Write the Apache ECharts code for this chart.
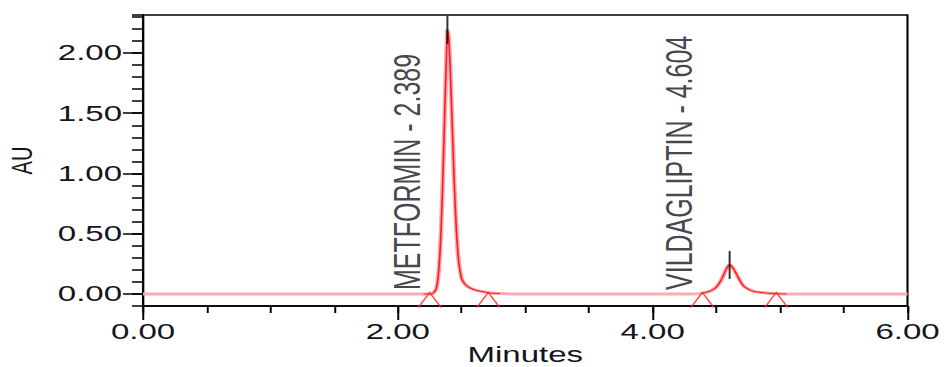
<!DOCTYPE html>
<html>
<head>
<meta charset="utf-8">
<script src="https://cdn.jsdelivr.net/npm/echarts@6.0.0/dist/echarts.min.js"></script>
<style>
  html, body { margin: 0; padding: 0; background: #fff; overflow: hidden; }
  /* the reference is stretched sideways, so draw narrow and stretch */
  #chart { width: 629.333px; height: 367px; transform: scaleX(1.5); transform-origin: 0 0; }
</style>
</head>
<body>
<div id="chart"></div>
<script>
// chromatogram trace (minutes, AU)
const timeMin = [
  0, 0.5, 1.0, 1.5, 2.0, 2.2, 2.26, 2.28, 2.30, 2.31, 2.32, 2.33, 2.34, 2.35, 2.36, 2.37, 2.38,
  2.389, 2.40, 2.41, 2.42, 2.43, 2.44, 2.45, 2.46, 2.47, 2.48, 2.50, 2.52, 2.55, 2.60, 2.66,
  2.72, 2.80, 2.90, 3.2, 3.6, 4.0, 4.30, 4.38, 4.44, 4.48, 4.51, 4.54, 4.57, 4.59, 4.604,
  4.62, 4.65, 4.68, 4.71, 4.75, 4.80, 4.87, 4.95, 5.05, 5.5, 6.0
];
const absorb = [
  0, 0, 0, 0, 0, 0, 0, 0.01, 0.04, 0.09, 0.18, 0.33, 0.55, 0.85, 1.20, 1.58, 1.92,
  2.19, 2.12, 1.90, 1.62, 1.30, 1.00, 0.74, 0.52, 0.36, 0.25, 0.13, 0.09, 0.06, 0.035, 0.02,
  0.008, 0.004, 0, 0, 0, 0, 0, 0.005, 0.02, 0.04, 0.07, 0.12, 0.19, 0.23, 0.24,
  0.23, 0.18, 0.12, 0.07, 0.04, 0.02, 0.01, 0.004, 0, 0, 0
];

// integrated peaks
const peakNames = ['METFORMIN', 'VILDAGLIPTIN'];
const peakRT = [2.389, 4.604];
const peakApex = [2.19, 0.24];
const peakStart = [2.25, 4.39];
const peakEnd = [2.71, 4.97];

// axis ticks
const yLabelValues = [0, 0.5, 1.0, 1.5, 2.0];

const SX = 1.5; // horizontal stretch of the page
const FONT = '"Liberation Sans", Arial, sans-serif';
const TEXT = '#14141c';

const trace = timeMin.map((t, i) => [t, absorb[i]]);
const redTrace = timeMin.map((t, i) => {
  const inPeak = peakStart.some((s, k) => t >= s - 0.05 && t <= peakEnd[k] + 0.15);
  return [t, inPeak ? absorb[i] : null];
});
const labelOffsets = [[4, -27], [4, -34]];

const chart = echarts.init(document.getElementById('chart'), null, { renderer: 'svg' });

chart.setOption({
  animation: false,
  grid: {
    left: 143 / SX,
    right: 36 / SX,
    top: 15,
    bottom: 61,
    outerBoundsMode: 'none',
    show: true,
    borderColor: '#000',
    borderWidth: 1.4
  },
  xAxis: [
    {
      type: 'value',
      min: 0,
      max: 6,
      interval: 0.5,
      name: 'Minutes',
      nameLocation: 'middle',
      nameGap: 38,
      nameTextStyle: { fontFamily: FONT, fontSize: 22, color: TEXT },
      axisLine: { onZero: false, lineStyle: { color: '#000', width: 1.5 } },
      axisTick: { length: 7, lineStyle: { color: '#000', width: 1.3 } },
      axisLabel: { show: false },
      splitLine: { show: false }
    },
    {
      type: 'value',
      min: 0,
      max: 6,
      interval: 2,
      position: 'bottom',
      axisLine: { show: false, onZero: false },
      axisTick: { length: 14, lineStyle: { color: '#000', width: 1.3 } },
      axisLabel: {
        margin: 15,
        fontFamily: FONT,
        fontSize: 22,
        color: TEXT,
        formatter: (v) => v.toFixed(2)
      },
      splitLine: { show: false }
    }
  ],
  yAxis: [
    {
      type: 'value',
      min: -0.1,
      max: 2.315,
      interval: 0.1,
      name: 'AU',
      nameLocation: 'middle',
      nameGap: 71,
      nameTextStyle: { fontFamily: FONT, fontSize: 20, color: TEXT },
      axisLine: { show: true, onZero: false, lineStyle: { color: '#000', width: 1.4 } },
      axisTick: { length: 11 / SX, lineStyle: { color: '#000', width: 1.5 } },
      axisLabel: { show: false },
      splitLine: { show: false }
    },
    {
      type: 'value',
      min: -0.1,
      max: 2.315,
      position: 'left',
      axisLine: { show: false, onZero: false },
      axisTick: { customValues: yLabelValues, length: 20 / SX, lineStyle: { color: '#000', width: 1.5 } },
      axisLabel: {
        customValues: yLabelValues,
        margin: 21 / SX,
        fontFamily: FONT,
        fontSize: 22,
        color: TEXT,
        formatter: (v) => v.toFixed(2)
      },
      splitLine: { show: false }
    }
  ],
  series: [
    {
      name: 'baseline',
      type: 'line',
      data: trace,
      showSymbol: false,
      smooth: 0.2,
      silent: true,
      z: 1,
      lineStyle: { color: '#ffa9b0', width: 3 }
    },
    {
      name: 'trace',
      type: 'line',
      data: redTrace,
      showSymbol: false,
      smooth: 0.2,
      connectNulls: false,
      silent: true,
      z: 2,
      lineStyle: { color: '#ff1f1f', width: 1.1 }
    },
    {
      name: 'peak marks',
      type: 'scatter',
      data: peakStart.concat(peakEnd).map((t) => [t, -0.05]),
      symbol: 'path://M0,15 L11.5,0 L23,15',
      symbolSize: [23 / SX, 15],
      silent: true,
      z: 3,
      itemStyle: { color: 'none', borderColor: '#ff2a2a', borderWidth: 1.2 }
    },
    {
      name: 'apex',
      type: 'scatter',
      data: peakRT.map((t, i) => [t, peakApex[i]]),
      symbol: 'rect',
      symbolSize: [2 / SX, 28],
      silent: true,
      z: 4,
      itemStyle: { color: '#000' }
    },
    {
      name: 'peak names',
      type: 'scatter',
      symbolSize: 0,
      silent: true,
      z: 5,
      data: peakRT.map((t, i) => ({
        value: [t, 0],
        name: peakNames[i],
        label: { offset: labelOffsets[i] }
      })),
      label: {
        show: true,
        position: 'inside',
        rotate: 90,
        align: 'left',
        verticalAlign: 'middle',
        fontFamily: FONT,
        fontSize: 25,
        color: TEXT,
        formatter: (p) => p.name + ' - ' + p.value[0].toFixed(3)
      }
    }
  ]
});
</script>
</body>
</html>
